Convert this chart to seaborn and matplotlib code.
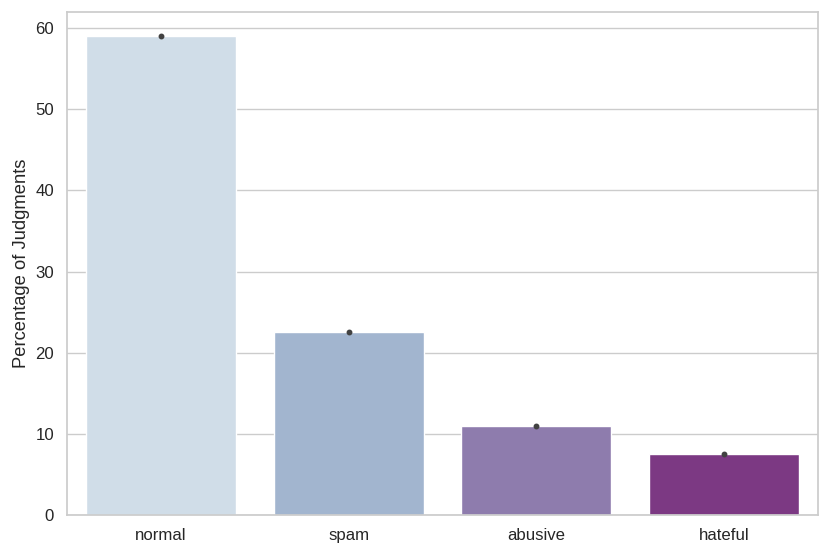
import pandas as pd
import numpy as np
import matplotlib.pyplot as plt
import seaborn as sns

# dados
categorias = ['normal', 'spam', 'abusive', 'hateful']
percentuais = [59.0, 22.55, 10.96, 7.5]

df = pd.DataFrame({'label': categorias, 'pct': percentuais})

sns.set_theme(style='whitegrid', font_scale=1.1)
plt.rcParams['font.family'] = ['Liberation Sans', 'DejaVu Sans']

fig, ax = plt.subplots(figsize=(8.31, 5.55), dpi=100)

sns.barplot(data=df, x='label', y='pct', hue='label', palette='BuPu',
            legend=False, errorbar=None, ax=ax)

# ponto no topo (intervalo de confiança nulo)
sns.pointplot(data=df, x='label', y='pct', color='.26', linestyle='none',
              markersize=2.2, ax=ax)

ax.set_xlabel('')
ax.set_ylabel('Percentage of Judgments')

plt.subplots_adjust(left=0.081, right=0.984, top=0.978, bottom=0.072)
plt.savefig('out.png')
